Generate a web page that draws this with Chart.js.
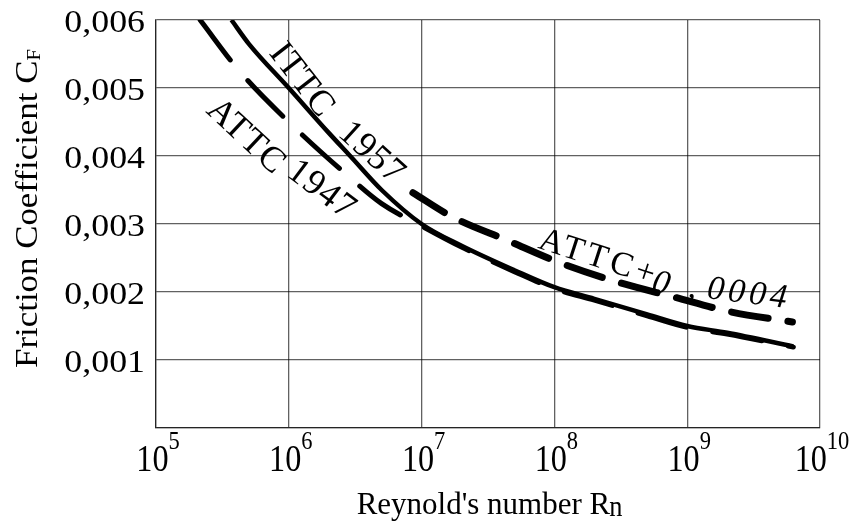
<!DOCTYPE html>
<html>
<head>
<meta charset="utf-8">
<script src="https://cdn.jsdelivr.net/npm/chart.js@4/dist/chart.umd.min.js"></script>
<style>
  html, body { margin:0; padding:0; background:#fff; }
  canvas { display:block; }
</style>
</head>
<body>
<canvas id="cf" width="853" height="522"></canvas>
<script>
// --- data ---
const xDecades = [1e5, 1e6, 1e7, 1e8, 1e9, 1e10];
const xExponents = ['5', '6', '7', '8', '9', '10'];
const yTicks = [0.001, 0.002, 0.003, 0.004, 0.005, 0.006];
const yTickLabels = ['0,001', '0,002', '0,003', '0,004', '0,005', '0,006'];

// ITTC 1957 (solid)
const ittcRn = [3.7e5, 5e5, 1e6, 2e6, 2.9e6, 5e6, 1e7, 2e7, 5e7, 1e8, 2e8, 5e8, 1e9, 2e9, 6.3e9];
const ittcCf = [0.00600, 0.00565, 0.00500, 0.00434, 0.00400, 0.00350, 0.00300, 0.00268, 0.00232, 0.00207, 0.00190, 0.00167, 0.00150, 0.00140, 0.00120];

// ATTC 1947 (dashed)
const attcRn = [2.15e5, 4.2e5, 1e6, 2.9e6, 5e6, 1e7, 2e7, 5e7, 1e8, 2e8, 5e8, 1e9, 2e9, 6.3e9];
const attcCf = [0.00600, 0.00526, 0.00450, 0.00368, 0.00330, 0.00297, 0.00266, 0.00230, 0.00205, 0.00188, 0.00165, 0.00148, 0.00138, 0.00119];

// ATTC + 0,0004 (heavy dashed)
const attcPlusRn = [8.6e6, 1.72e7, 4.4e7, 1.1e8, 2.95e8, 7.8e8, 2.1e9, 6.2e9];
const attcPlusCf = [0.00346, 0.00310, 0.00276, 0.00243, 0.00215, 0.00193, 0.00171, 0.00156];

// labels along the curves: text, anchor Rn, anchor Cf, angle (deg), italic
const noteText   = ['ITTC', '1957', 'ATTC', '1947', 'ATTC+', '0', ',', '0004'];
const noteRn     = [7e5, 2.3e6, 2.34e5, 9.4e5, 7.4e7, 5.3e8, 1.0e9, 1.39e9];
const noteCf     = [0.00551, 0.00431, 0.00465, 0.00372, 0.00265, 0.00202, 0.00193, 0.00191];
const noteAngle  = [52, 42, 43, 37, 18, 14, 10, 7];
const noteItalic = [false, false, false, false, false, true, true, true];

const SERIF = '"Liberation Serif", "Times New Roman", serif';
const GRID = 'rgba(0,0,0,0.62)';

function pts(xs, ys){ return xs.map((x,i)=>({x:x, y:ys[i]})); }

const textPlugin = {
  id: 'cfText',
  afterDraw(chart){
    const c = chart.ctx, xs = chart.scales.x, ys = chart.scales.y;
    c.save();
    c.fillStyle = '#000';

    // y tick labels
    c.font = '32px ' + SERIF;
    c.textAlign = 'right';
    c.textBaseline = 'alphabetic';
    yTicks.forEach((v,i)=>{
      const y = ys.getPixelForValue(v);
      c.save();
      c.translate(145, y + 12);
      c.scale(1.12, 1);
      c.fillText(yTickLabels[i], 0, 0);
      c.restore();
    });

    // x tick labels 10^n
    c.textAlign = 'left';
    xDecades.forEach((v,i)=>{
      const x = xs.getPixelForValue(v);
      c.font = '37px ' + SERIF;
      const wBase = c.measureText('10').width * 0.87;
      c.font = '25px ' + SERIF;
      const wExp = c.measureText(xExponents[i]).width * 0.9;
      const left = x + 2 - (wBase + wExp) / 2;
      c.save();
      c.translate(left, 471);
      c.scale(0.87, 1);
      c.font = '37px ' + SERIF;
      c.fillText('10', 0, 0);
      c.restore();
      c.save();
      c.translate(left + wBase, 449);
      c.scale(0.9, 1);
      c.font = '25px ' + SERIF;
      c.fillText(xExponents[i], 0, 0);
      c.restore();
    });

    // x axis title
    c.font = '31px ' + SERIF;
    const t1 = "Reynold's number R";
    const w1 = c.measureText(t1).width;
    const wn = c.measureText('n').width * 0.85;
    const xl = (xs.left + xs.right) / 2 + 2 - (w1 + wn) / 2;
    c.fillText(t1, xl, 514);
    c.save();
    c.translate(xl + w1 - 1, 516);
    c.scale(0.85, 0.95);
    c.fillText('n', 0, 0);
    c.restore();

    // y axis title, rotated
    c.save();
    c.translate(37, 368);
    c.rotate(-Math.PI / 2);
    c.scale(1.09, 1);
    c.font = '32px ' + SERIF;
    const t2 = 'Friction Coefficient C';
    c.fillText(t2, 0, 0);
    const w2 = c.measureText(t2).width;
    c.font = '19px ' + SERIF;
    c.fillText('F', w2, 3);
    c.restore();

    // curve labels
    noteText.forEach((t,i)=>{
      c.save();
      c.translate(xs.getPixelForValue(noteRn[i]), ys.getPixelForValue(noteCf[i]));
      c.rotate(noteAngle[i] * Math.PI / 180);
      c.font = (noteItalic[i] ? 'italic ' : '') + (i < 4 ? '36px ' : '34px ') + SERIF;
      c.letterSpacing = (i === 4 || i === 7) ? '4px' : '1px';
      c.fillText(t, 0, 0);
      c.restore();
    });
    c.restore();
  }
};

new Chart(document.getElementById('cf'), {
  type: 'line',
  data: {
    datasets: [
      {
        label: 'ITTC 1957',
        data: pts(ittcRn, ittcCf),
        borderColor: '#000',
        borderWidth: 4.5,
        cubicInterpolationMode: 'monotone',
        pointRadius: 0
      },
      {
        label: 'ATTC 1947',
        data: pts(attcRn, attcCf),
        borderColor: '#000',
        borderWidth: 5,
        borderDash: [50, 27],
        borderCapStyle: 'round',
        cubicInterpolationMode: 'monotone',
        pointRadius: 0
      },
      {
        label: 'ATTC+0,0004',
        data: pts(attcPlusRn, attcPlusCf),
        borderColor: '#000',
        borderWidth: 7,
        borderDash: [37, 20],
        borderCapStyle: 'round',
        cubicInterpolationMode: 'monotone',
        pointRadius: 0
      }
    ]
  },
  options: {
    responsive: false,
    animation: false,
    layout: { padding: { left: 156, top: 20, right: 33, bottom: 94 } },
    plugins: { legend: { display: false }, tooltip: { enabled: false } },
    scales: {
      x: {
        type: 'logarithmic',
        min: 1e5,
        max: 1e10,
        afterBuildTicks: s => { s.ticks = xDecades.map(v => ({ value: v })); },
        ticks: { display: false },
        grid: { color: GRID, lineWidth: 1.3, drawTicks: false },
        border: { color: GRID, width: 1.3 }
      },
      y: {
        type: 'linear',
        min: 0,
        max: 0.006,
        ticks: { display: false, stepSize: 0.001 },
        grid: { color: GRID, lineWidth: 1.3, drawTicks: false },
        border: { color: GRID, width: 1.3 }
      }
    }
  },
  plugins: [textPlugin]
});
</script>
</body>
</html>
